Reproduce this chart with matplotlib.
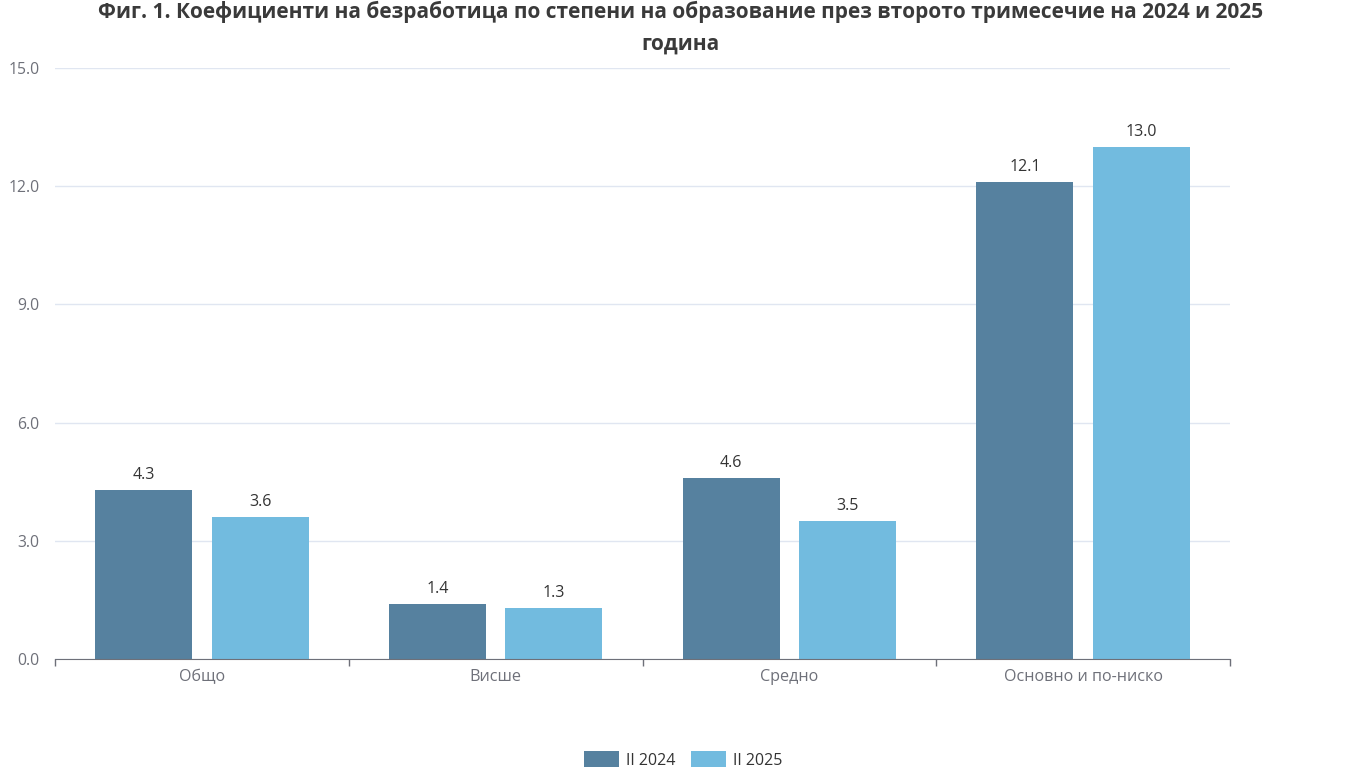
import matplotlib.pyplot as plt
import numpy as np

plt.rcParams['font.family'] = ['Open Sans', 'DejaVu Sans']

# ---------------------- данни ----------------------
categories = ["Общо", "Висше", "Средно", "Основно и по-ниско"]
series_names = ["II 2024", "II 2025"]
values_2024 = [4.3, 1.4, 4.6, 12.1]
values_2025 = [3.6, 1.3, 3.5, 13.0]
yticks = [0.0, 3.0, 6.0, 9.0, 12.0, 15.0]
title = "Фиг. 1. Коефициенти на безработица по степени на образование през второто тримесечие на 2024 и 2025\nгодина"

col_dark = "#56819f"
col_light = "#72bbdf"

fig = plt.figure(figsize=(13.66, 7.68), dpi=100)
ax = fig.add_axes([55 / 1366, 109 / 768, 1175 / 1366, 591 / 768])

x = np.arange(len(categories))
w = 0.33
off = 0.198
b1 = ax.bar(x - off, values_2024, w, color=col_dark, label=series_names[0], zorder=3)
b2 = ax.bar(x + off, values_2025, w, color=col_light, label=series_names[1], zorder=3)

for bars in (b1, b2):
    for r in bars:
        ax.annotate(f"{r.get_height():.1f}", (r.get_x() + r.get_width() / 2, r.get_height()),
                    xytext=(0, 5), textcoords="offset points", ha="center", va="bottom",
                    fontsize=11.5, color="#333333")

ax.set_xlim(-0.5, len(categories) - 0.5)
ax.set_ylim(0, 15)
ax.set_yticks(yticks)
ax.set_yticklabels([f"{v:.1f}" for v in yticks])
ax.grid(axis="y", color="#e0e6f1", linewidth=1, zorder=0)

ax.set_xticks(x)
ax.set_xticklabels(categories)
ax.set_xticks(np.arange(-0.5, len(categories)), minor=True)
ax.tick_params(axis="x", which="major", length=0, pad=7, labelsize=11.6, labelcolor="#6e7079")
ax.tick_params(axis="x", which="minor", length=5, color="#6e7079", width=1)
ax.tick_params(axis="y", length=0, pad=11, labelsize=11.3, labelcolor="#6e7079")

for s in ("top", "right", "left"):
    ax.spines[s].set_visible(False)
ax.spines["bottom"].set_color("#6e7079")
ax.spines["bottom"].set_zorder(4)

fig.text(0.4985, 0.999, title, ha="center", va="top", fontsize=15, fontweight="bold",
         color="#3a3a3a", linespacing=1.65)

fig.legend(handles=[b1, b2], labels=series_names, loc="center",
           bbox_to_anchor=(0.5, 8 / 768), frameon=False, ncol=2,
           fontsize=11.5, handlelength=2.2, handleheight=1.1, columnspacing=1.0,
           handletextpad=0.4, labelcolor="#333333")

fig.savefig("out.png", dpi=100, facecolor="white")
